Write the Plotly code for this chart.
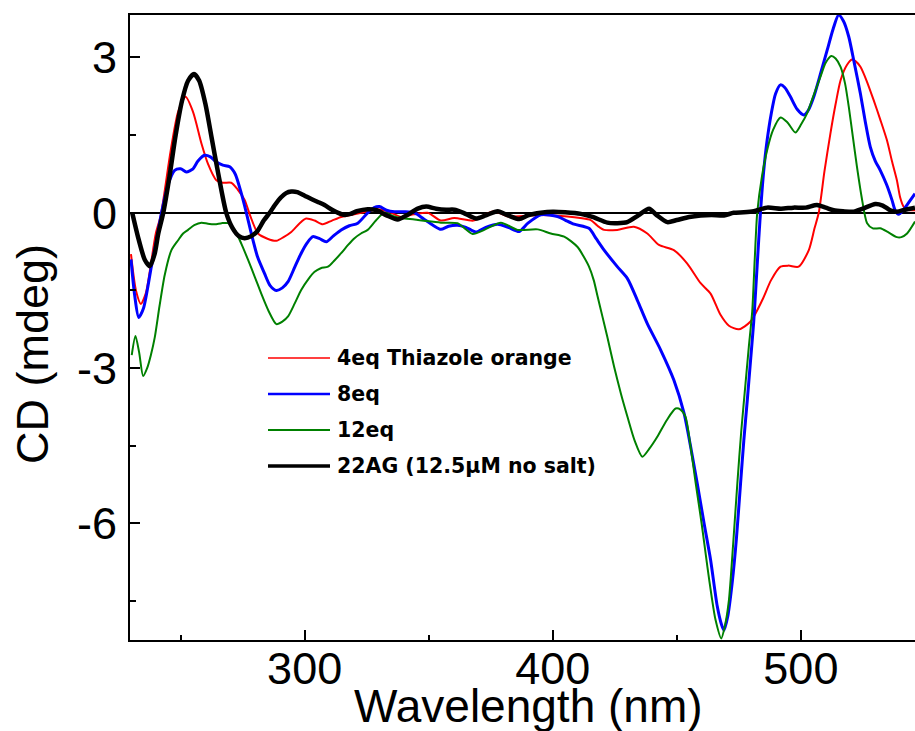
import plotly.graph_objects as go

# ---------------- data ----------------
red_x = [230, 232, 234, 236, 238, 240, 242, 246, 249, 252, 255, 258.4, 261, 264.4, 267, 270.4, 273, 275.8,
         278, 281.2, 285, 288.6, 291.5, 294.6, 298, 300.6, 304, 307.3, 311, 314.7, 318, 322.8, 329.5, 334,
         338.9, 344, 349.6, 354.9, 360.3, 368, 372, 376.4, 381.8, 388, 395.2, 400, 405.9, 411, 415.3, 418,
         420.7, 426, 432.7, 438.1, 442.8, 448.8, 454.2, 459.6, 463.6, 467.6, 471, 475, 479.7, 484.4, 488,
         491.8, 495, 499.1, 503.2, 505.5, 507.2, 509.5, 511.9, 514, 516, 518.5, 520.6, 522, 524, 526.5,
         529.3, 532, 534.7, 536.7, 538.7, 540, 541.4, 543, 546]
red_y = [-0.8, -1.5, -1.76, -1.55, -1.0, -0.4, -0.05, 1.2, 1.95, 2.24, 1.95, 1.34, 0.95, 0.63, 0.58, 0.58, 0.45, 0.25,
         -0.05, -0.4, -0.5, -0.54, -0.47, -0.37, -0.2, -0.11, -0.15, -0.22, -0.15, -0.08, -0.05, 0.0, 0.07, 0.02,
         -0.08, -0.03, 0.0, -0.15, -0.1, -0.15, -0.05, 0.03, -0.07, -0.06, -0.04, -0.05, -0.07, -0.1, -0.14, -0.25,
         -0.33, -0.33, -0.27, -0.4, -0.62, -0.72, -0.98, -1.36, -1.56, -1.97, -2.18, -2.25, -2.1, -1.69, -1.3,
         -1.04, -1.02, -1.04, -0.72, -0.3, 0.0, 0.8, 1.53, 2.1, 2.56, 2.85, 2.96, 2.93, 2.82, 2.55,
         2.18, 1.8, 1.4, 1.0, 0.63, 0.3, 0.12, 0.06, 0.05]

blue_x = [230, 231.5, 233.1, 235, 238.2, 240, 242.3, 245, 247.6, 250, 252.3, 255, 257, 259.7, 262, 264.4, 267,
          269.8, 272, 274.5, 276.5, 278.5, 281, 283.8, 286, 288.6, 291, 293.3, 296, 298.6, 301, 303.3, 306,
          308.7, 311.5, 314.7, 318, 321.4, 325.4, 328, 330.1, 333, 336.2, 340, 344.3, 348, 352, 354.9, 358,
          361.6, 365, 369, 373, 377.8, 382, 386.5, 390, 395.2, 401.9, 405, 408.6, 414.6, 417.5, 420.7, 426,
          430.1, 434.1, 438.1, 443.5, 448.8, 452.9, 455.5, 458.2, 461, 463.6, 466.3, 468, 469, 470.5, 472.3,
          474, 475.7, 477, 478.4, 479.8, 481, 482.4, 483.7, 485, 486.4, 488, 489.8, 491.8, 493.5, 495.8,
          498.5, 501.2, 503, 505.2, 508, 510.6, 513, 515.2, 517.2, 519.3, 521.5, 524, 526, 528, 530, 532,
          534.5, 536.7, 538, 539.4, 541.4, 543.5, 546]
blue_y = [-0.9, -1.6, -2.02, -1.85, -1.04, -0.6, 0.0, 0.55, 0.82, 0.85, 0.79, 0.85, 1.0, 1.11, 1.08, 0.98, 0.92,
          0.89, 0.75, 0.37, 0.0, -0.4, -0.85, -1.17, -1.4, -1.5, -1.45, -1.33, -1.05, -0.78, -0.58, -0.46, -0.5,
          -0.56, -0.45, -0.33, -0.25, -0.2, 0.0, 0.1, 0.12, 0.05, 0.02, 0.02, 0.0, -0.12, -0.25, -0.32, -0.26,
          -0.24, -0.28, -0.37, -0.28, -0.22, -0.28, -0.36, -0.2, -0.04, -0.07, -0.14, -0.22, -0.3, -0.5, -0.72, -1.04,
          -1.27, -1.69, -2.14, -2.65, -3.23, -3.87, -4.5, -5.22, -6.0, -6.7, -7.6, -7.95, -8.06, -7.8, -7.15,
          -6.3, -5.22, -4.4, -3.62, -2.8, -2.1, -1.0, 0.0, 0.8, 1.4, 1.9, 2.3, 2.47, 2.42, 2.24,
          2.0, 1.89, 1.98, 2.24, 2.7, 3.14, 3.55, 3.82, 3.7, 3.4, 2.9, 2.3, 1.75, 1.27, 1.0, 0.82,
          0.55, 0.25, 0.05, -0.03, 0.06, 0.2, 0.37]

green_x = [230.3, 231.8, 233.3, 234.9, 236.5, 238, 239.6, 241.5, 243.6, 246.3, 249, 251, 253, 255.5, 258.4, 261,
           263.8, 266.5, 269.1, 271.8, 274.5, 277.2, 280, 282.5, 285.5, 288.6, 291, 293.3, 296, 298.6, 301.5,
           304, 306.5, 309.4, 312, 314.7, 317.5, 320.1, 322.7, 325.4, 328.7, 332.1, 335.5, 338.9, 344.3, 349,
           354.9, 361.6, 364.5, 367.7, 372.4, 379.1, 385.8, 393.9, 399.2, 404.6, 410, 412.5, 414.6, 416.5, 418,
           420, 422, 424.7, 427.5, 430.1, 433, 436.1, 439, 442.2, 446, 449.5, 451.5, 453.5, 455.5, 457.6, 460,
           462.3, 464, 465.6, 467.9, 469.5, 471, 472.7, 474.4, 476, 477.7, 479, 480.4, 481.4, 482.4, 484.3,
           486.4, 488.8, 491.8, 494.5, 497.8, 500, 502.5, 505, 507.9, 510, 512.3, 514, 516, 517.8, 519.3, 521,
           522.6, 524.5, 526.7, 529, 532, 535, 538.7, 540.5, 542.8, 546]
green_y = [-2.75, -2.38, -2.7, -3.15, -3.0, -2.75, -2.4, -1.8, -1.2, -0.72, -0.53, -0.4, -0.33, -0.24, -0.19, -0.21,
           -0.22, -0.2, -0.2, -0.33, -0.6, -0.91, -1.25, -1.56, -1.9, -2.15, -2.1, -2.0, -1.75, -1.49, -1.28,
           -1.14, -1.07, -1.04, -0.92, -0.78, -0.62, -0.49, -0.4, -0.33, -0.15, 0.0, -0.06, -0.1, -0.13, -0.16,
           -0.19, -0.2, -0.3, -0.41, -0.33, -0.19, -0.33, -0.32, -0.4, -0.46, -0.66, -0.85, -1.04, -1.3, -1.6,
           -2.0, -2.4, -2.97, -3.5, -3.94, -4.4, -4.71, -4.55, -4.32, -4.0, -3.78, -3.8, -3.94, -4.5, -5.22, -6.0,
           -6.83, -7.4, -7.86, -8.22, -7.95, -7.48, -6.4, -5.22, -4.2, -3.29, -2.6, -1.9, -0.9, 0.0, 0.7,
           1.21, 1.6, 1.84, 1.75, 1.55, 1.7, 1.92, 2.25, 2.63, 2.9, 3.03, 2.98, 2.82, 2.5, 2.05, 1.45,
           0.89, 0.3, -0.2, -0.3, -0.3, -0.37, -0.47, -0.47, -0.4, -0.17]

black_x = [230.5, 233, 235.5, 237.6, 239.5, 241, 243, 245.5, 248, 250.5, 253, 255.4, 257.5, 260, 262.5, 265, 268.4,
           271, 273.5, 275.8, 278.5, 281, 283.5, 285.9, 288, 290.5, 292.5, 294.6, 297, 300, 302.5, 305.3, 308,
           311, 313.5, 316, 318.5, 321, 325.4, 329, 333, 337.5, 341, 345.6, 349, 353, 357, 360.3, 364, 369, 373,
           377.8, 382, 386.5, 390, 395.2, 400, 405, 411.3, 416, 422, 426, 430, 434.5, 438.8, 442, 446.2, 450,
           455, 459.6, 464, 469, 472.9, 477, 481, 486.4, 492, 497, 502, 506.5, 510, 513.2, 517, 521.3, 525,
           530, 533, 536, 538.7, 542, 546]
black_y = [0.0, -0.5, -0.9, -1.03, -0.8, -0.4, 0.0, 0.7, 1.5, 2.15, 2.55, 2.68, 2.55, 2.1, 1.45, 0.8, 0.0,
           -0.3, -0.45, -0.49, -0.45, -0.35, -0.15, 0.0, 0.15, 0.3, 0.38, 0.41, 0.4, 0.33, 0.27, 0.21, 0.15,
           0.06, 0.0, -0.04, -0.02, 0.03, 0.07, 0.05, -0.05, -0.13, -0.05, 0.08, 0.12, 0.08, 0.06, 0.06, 0.0, -0.11, -0.05,
           0.03, -0.05, -0.12, -0.05, 0.0, 0.02, 0.01, -0.02, -0.08, -0.19, -0.2, -0.18, -0.05, 0.08, -0.05, -0.18, -0.14,
           -0.08, -0.05, -0.04, -0.05, 0.0, 0.01, 0.03, 0.1, 0.08, 0.1, 0.1, 0.15, 0.1, 0.05, 0.03, 0.02, 0.08,
           0.17, 0.14, 0.05, 0.02, 0.06, 0.1]

series_names = ["4eq Thiazole orange", "8eq", "12eq", "22AG (12.5\u03bcM no salt)"]
x_ticks = [300, 400, 500]
x_tick_labels = ["300", "400", "500"]
y_ticks = [-6, -3, 0, 3]
y_tick_labels = ["-6", "-3", "0", "3"]

colors = ["#ff0000", "#0000ff", "#008000", "#000000"]
widths = [2, 3, 2, 4.5]
legend_widths = [1.5, 2.5, 2, 3.5]

# ---------------- figure ----------------
fig = go.Figure()
for (xs, ys), name, c, w in zip([(red_x, red_y), (blue_x, blue_y), (green_x, green_y), (black_x, black_y)],
                                series_names, colors, widths):
    fig.add_trace(go.Scatter(x=xs, y=ys, mode="lines", name=name, showlegend=False,
                             line=dict(color=c, width=w, shape="spline", smoothing=0.7)))

tick_font = dict(family="Liberation Sans, Arial, sans-serif", size=45, color="black")

fig.update_layout(
    width=915, height=731,
    margin=dict(l=130, r=0, t=15, b=91, autoexpand=False),
    paper_bgcolor="white", plot_bgcolor="white",
    showlegend=False,
    xaxis=dict(range=[229.6, 546], tickvals=x_ticks, ticktext=x_tick_labels, ticks="inside", ticklen=10,
               tickwidth=2, tickcolor="black", showline=True, linecolor="black", linewidth=2, mirror=True,
               showgrid=False, zeroline=False, tickfont=tick_font, automargin=False,
               ticklabelstandoff=-12,
               minor=dict(dtick=50, tick0=0, ticks="inside", ticklen=5, tickwidth=2, tickcolor="black",
                          showgrid=False)),
    yaxis=dict(range=[-8.25, 3.82], tickvals=y_ticks, ticktext=y_tick_labels, ticks="inside", ticklen=10,
               tickwidth=2, tickcolor="black", showline=True, linecolor="black", linewidth=2, mirror=False,
               showgrid=False, zeroline=True, zerolinecolor="black", zerolinewidth=1.5,
               tickfont=tick_font, ticklabelstandoff=2, automargin=False,
               minor=dict(dtick=1.5, tick0=0, ticks="inside", ticklen=6, tickwidth=2, tickcolor="black",
                          showgrid=False)),
)

# axis titles
fig.add_annotation(text="Wavelength (nm)", xref="paper", yref="paper", x=(528 - 130) / 785,
                   y=(640 - 706) / 625, xanchor="center", yanchor="middle", showarrow=False,
                   font=dict(family="Liberation Sans, Arial, sans-serif", size=46, color="black"))
fig.add_annotation(text="CD (mdeg)", xref="paper", yref="paper", x=(32 - 130) / 785,
                   y=(640 - 354) / 625, xanchor="center", yanchor="middle", textangle=-90,
                   showarrow=False,
                   font=dict(family="Liberation Sans, Arial, sans-serif", size=45, color="black"))

# manual legend (line samples + bold labels)
row_py = [358, 394, 430, 466]
for name, c, lw, py in zip(series_names, colors, legend_widths, row_py):
    yp = (640 - py) / 625
    fig.add_shape(type="line", xref="paper", yref="paper", x0=(268 - 130) / 785, x1=(330 - 130) / 785,
                  y0=yp, y1=yp, line=dict(color=c, width=lw))
    fig.add_annotation(text=name, xref="paper", yref="paper", x=(335 - 130) / 785, y=yp,
                       xanchor="left", yanchor="middle", showarrow=False,
                       font=dict(family="DejaVu Sans", size=20.5, color="black", weight="bold"))

fig.write_html("out.html", config={"displayModeBar": False},
               post_script="document.body.style.margin='0px';document.body.style.overflow='hidden';")
